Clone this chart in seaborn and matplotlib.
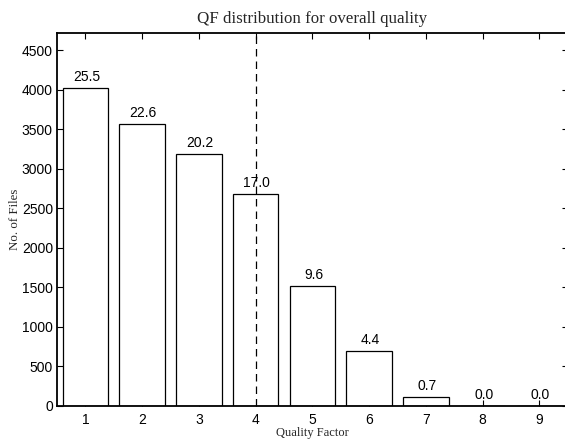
import matplotlib
matplotlib.use("Agg")
import matplotlib.pyplot as plt
import seaborn as sns
import pandas as pd

# Number of files per quality factor
quality_factor = [1, 2, 3, 4, 5, 6, 7, 8, 9]
file_counts = [4028, 3573, 3191, 2686, 1517, 697, 112, 3, 1]
threshold_qf = 4
y_ticks = [0, 500, 1000, 1500, 2000, 2500, 3000, 3500, 4000, 4500]

df = pd.DataFrame({"qf": quality_factor, "count": file_counts})
total = sum(file_counts)
percent = [100.0 * c / total for c in file_counts]

sns.set_style("white")
plt.rcParams["font.family"] = ["Liberation Sans", "DejaVu Sans"]

fig = plt.figure(figsize=(5.65, 4.41), dpi=100)
ax = fig.add_axes([0.101, 0.0794, 0.904, 0.8458])

sns.barplot(data=df, x="qf", y="count", native_scale=True, width=0.8,
            color="white", edgecolor="black", linewidth=0.9, ax=ax,
            errorbar=None, saturation=1)

for q, c, p in zip(quality_factor, file_counts, percent):
    ax.text(q + 0.02, c + 50, f"{p:.1f}", ha="center", va="bottom",
            fontsize=10, color="black")

ax.axvline(threshold_qf, color="black", linestyle=(0, (6, 4)), linewidth=0.9)

ax.set_xlim(0.5, 9.5)
ax.set_ylim(0, 4720)
ax.set_xticks(quality_factor)
ax.set_yticks(y_ticks)
ax.tick_params(direction="in", length=4, width=0.8, labelsize=10,
               top=True, right=True, bottom=True, left=True, colors="black")
ax.tick_params(axis="y", pad=3)
ax.tick_params(axis="x", pad=5)
for s in ax.spines.values():
    s.set_visible(True)
    s.set_color("black")
    s.set_linewidth(1.3)

ax.set_title("QF distribution for overall quality", fontsize=12.2,
             family="Liberation Serif", pad=7)
ax.set_xlabel("Quality Factor", fontsize=9, family="Liberation Serif",
              labelpad=0)
ax.set_ylabel("No. of Files", fontsize=9.3, family="Liberation Serif")
ax.yaxis.set_label_coords(-0.071, 0.5)

fig.savefig("out.png", dpi=100)
